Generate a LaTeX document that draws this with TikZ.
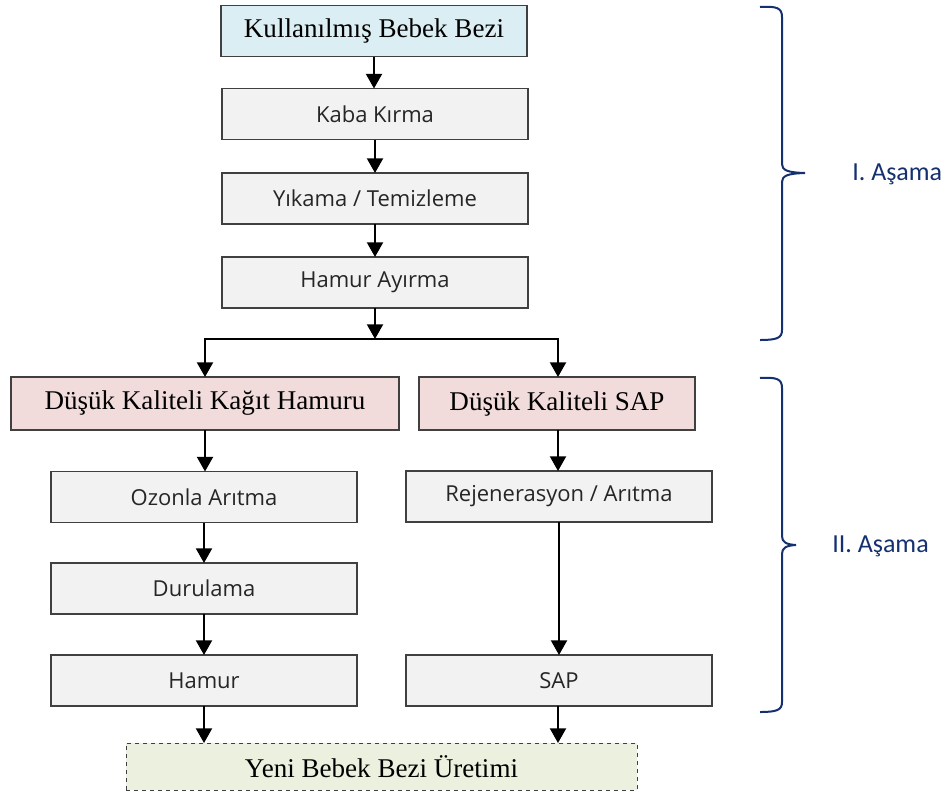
\documentclass[tikz,border=0pt]{standalone}
\usepackage{fontspec}
\setmainfont{Liberation Serif}
\newfontfamily\graysans{Open Sans}
\newfontfamily\labsans{Carlito}
\usetikzlibrary{arrows.meta,calc}
\definecolor{topblue}{HTML}{DAEEF3}
\definecolor{boxgray}{HTML}{F2F2F2}
\definecolor{boxpink}{HTML}{F2DCDB}
\definecolor{boxgreen}{HTML}{EBF1DE}
\definecolor{edgegray}{HTML}{404040}
\definecolor{navy}{HTML}{14306E}
\tikzset{
  basebox/.style={draw=edgegray, line width=0.9pt, rectangle, inner sep=0pt, outer sep=0pt, minimum width=306*0.75pt, minimum height=51*0.75pt},
  serifbox/.style={basebox, font=\fontsize{20.3}{24}\selectfont},
  graybox/.style={basebox, fill=boxgray, text=black!85, font=\graysans\fontsize{16.5}{20}\selectfont},
  arr/.style={line width=1.5pt, -{Triangle[width=12pt,length=11pt]}},
  brace/.style={draw=navy, line width=1.5pt},
  stagelab/.style={text=navy, font=\labsans\fontsize{19.5}{22}\selectfont, inner sep=0pt, anchor=west}
}
\begin{document}
\begin{tikzpicture}[x=0.75pt,y=-0.75pt]
\useasboundingbox (0,0) rectangle (947,794);
% top column
\node[serifbox, fill=topblue] (kbb) at (374,31) {Kullanılmış Bebek Bezi};
\node[graybox] (kaba) at (375,114) {Kaba Kırma};
\node[graybox] (yik) at (375,198.5) {Yıkama / Temizleme};
\node[graybox] (hay) at (375,282.5) {Hamur Ayırma};
\coordinate (split) at (375,339);
% second level
\node[serifbox, fill=boxpink, minimum width=388*0.75pt, minimum height=53*0.75pt] (dkh) at (205,403.5) {Düşük Kaliteli Kağıt Hamuru};
\node[serifbox, fill=boxpink, minimum width=276*0.75pt, minimum height=53*0.75pt] (dks) at (557,403.5) {Düşük Kaliteli SAP};
% left column
\node[graybox] (ozon) at (204,497) {Ozonla Arıtma};
\node[graybox] (dur) at (204,588.5) {Durulama};
\node[graybox] (ham) at (204,680.5) {Hamur};
% right column
\node[graybox] (rej) at (559,496.5) {Rejenerasyon / Arıtma};
\node[graybox] (sap) at (559,680.5) {SAP};
% bottom
\node[serifbox, fill=boxgreen, dashed, line width=0.6pt, minimum width=511*0.75pt, minimum height=47*0.75pt] (yeni) at (381.5,766.5) {Yeni Bebek Bezi Üretimi};
% connectors
\draw[arr] (kbb.south) -- (kbb.south |- kaba.north);
\draw[arr] (kaba.south) -- (yik.north);
\draw[arr] (yik.south) -- (hay.north);
\draw[arr] (hay.south) -- (split);
\draw[arr] (split) -| (dkh.north);
\draw[arr] (split) -| ([xshift=0.75pt]dks.north);
\draw[arr] (dkh.south) -- (dkh.south |- ozon.north);
\draw[arr] (ozon.south) -- (dur.north);
\draw[arr] (dur.south) -- (ham.north);
\draw[arr] (ham.south) -- (ham.south |- yeni.north);
\draw[arr] ([xshift=0.75pt]dks.south) -- ([xshift=0.75pt]dks.south |- rej.north);
\draw[arr] (rej.south) -- (sap.north);
\draw[arr] ([xshift=-0.75pt]sap.south) -- ([xshift=-0.75pt]sap.south |- yeni.north);
% braces
\draw[brace] (760,7) .. controls (777,6) and (782,8) .. (782,17) -- (782,164) .. controls (782,170) and (787,172.5) .. (805,173) .. controls (787,173.5) and (782,176) .. (782,182) -- (782,330) .. controls (782,338) and (777,340) .. (760,340);
\draw[brace] (760,378) .. controls (777,377) and (782,379) .. (782,388) -- (782,536) .. controls (782,542) and (786,544.5) .. (796,545) .. controls (786,545.5) and (782,548) .. (782,554) -- (782,702) .. controls (782,710) and (777,712) .. (760,712);
\node[stagelab] (s1) at (852,174) {I. Aşama};
\node[stagelab] (s2) at (832,546) {II. Aşama};
\end{tikzpicture}
\end{document}
